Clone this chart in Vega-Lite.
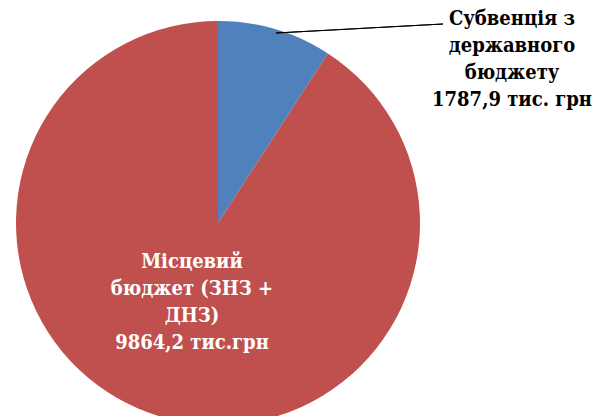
{
  "$schema": "https://vega.github.io/schema/vega-lite/v6.json",
  "width": 597,
  "height": 416,
  "autosize": "none",
  "padding": 0,
  "background": "white",
  "config": {"view": {"stroke": null}},
  "data": {
    "values": [
      {"idx": 1, "category": "Субвенція з державного бюджету", "value": 1787.9, "share": 9.15, "lines": ["Субвенція з", "державного", "бюджету", "1787,9 тис. грн"]},
      {"idx": 2, "category": "Місцевий бюджет (ЗНЗ + ДНЗ)", "value": 9864.2, "share": 90.85, "lines": ["Місцевий", "бюджет (ЗНЗ +", "ДНЗ)", "9864,2 тис.грн"]}
    ]
  },
  "layer": [
    {
      "mark": {"type": "arc", "outerRadius": 202},
      "encoding": {
        "theta": {"field": "share", "type": "quantitative", "stack": true},
        "order": {"field": "idx", "type": "quantitative"},
        "color": {
          "field": "category", "type": "nominal",
          "scale": {"domain": ["Субвенція з державного бюджету", "Місцевий бюджет (ЗНЗ + ДНЗ)"], "range": ["#4F81BD", "#C0504D"]},
          "legend": null
        },
        "x": {"datum": 0, "type": "quantitative", "scale": {"domain": [-1.09, 1.895], "nice": false, "zero": false}, "axis": null},
        "y": {"datum": 0, "type": "quantitative", "scale": {"domain": [-0.965, 1.115], "nice": false, "zero": false}, "axis": null}
      }
    },
    {
      "mark": {"type": "rule", "color": "black", "strokeWidth": 1.2},
      "encoding": {
        "x": {"datum": 0.29, "type": "quantitative"},
        "y": {"datum": 0.95, "type": "quantitative"},
        "x2": {"datum": 1.125},
        "y2": {"datum": 0.995}
      }
    },
    {
      "transform": [{"filter": "datum.idx == 1"}],
      "mark": {"type": "text", "font": "DejaVu Serif Condensed", "fontWeight": "bold", "fontSize": 20, "lineHeight": 27, "align": "center", "baseline": "alphabetic", "color": "black"},
      "encoding": {
        "text": {"field": "lines"},
        "x": {"datum": 1.47, "type": "quantitative"},
        "y": {"datum": 0.99, "type": "quantitative"}
      }
    },
    {
      "transform": [{"filter": "datum.idx == 2"}],
      "mark": {"type": "text", "font": "DejaVu Serif Condensed", "fontWeight": "bold", "fontSize": 20, "lineHeight": 27, "align": "center", "baseline": "alphabetic", "color": "white"},
      "encoding": {
        "text": {"field": "lines"},
        "x": {"datum": -0.13, "type": "quantitative"},
        "y": {"datum": -0.225, "type": "quantitative"}
      }
    }
  ]
}
